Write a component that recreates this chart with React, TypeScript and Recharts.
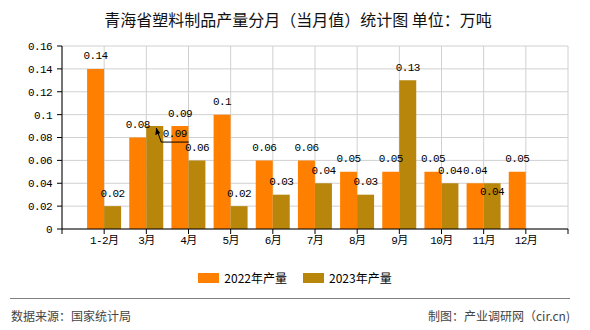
import React from "react";
import { BarChart, Bar, XAxis, YAxis, CartesianGrid, LabelList } from "recharts";

const months = ["1-2月", "3月", "4月", "5月", "6月", "7月", "8月", "9月", "10月", "11月", "12月"];
const output2022 = [0.14, 0.08, 0.09, 0.1, 0.06, 0.06, 0.05, 0.05, 0.05, 0.04, 0.05];
const output2023 = [0.02, 0.09, 0.06, 0.02, 0.03, 0.04, 0.03, 0.13, 0.04, 0.04, null];
const yTicks = [0, 0.02, 0.04, 0.06, 0.08, 0.1, 0.12, 0.14, 0.16];
const xTicks = [0, 1, 2, 3, 4, 5, 6, 7, 8, 9, 10, 11, 12];

const series = [
  { key: "y2022", name: "2022年产量", color: "#FF8000" },
  { key: "y2023", name: "2023年产量", color: "#B8860B" },
];

const data = months.map((m, i) => ({
  pos: i + 1,
  month: m,
  y2022: output2022[i],
  y2023: output2023[i],
}));

const monoFont = "'Liberation Mono', 'Noto Sans CJK SC', monospace";
const cjkFont = "'Noto Sans CJK SC', 'Noto Sans', sans-serif";

const makeLabel = (seriesKey: string) => (props: any) => {
  const { x, y, width, value, index } = props;
  if (value === null || value === undefined) return null;
  const cx = x + width / 2;
  const textStyle = { fontFamily: monoFont, fontSize: 11, letterSpacing: -0.6, fill: "#000" };
  // 3月 2023 label is pushed aside with a leader line in the original
  if (seriesKey === "y2023" && index === 1) {
    const tx = cx + 1.5;
    const ty = y + 2;
    return (
      <g>
        <polyline
          points={`${tx},${ty} ${cx + 6.5},${y + 16} ${cx + 34},${y + 16}`}
          fill="none"
          stroke="#000"
          strokeWidth={1}
        />
        <polygon points={`${tx},${ty} ${tx - 1},${ty + 7} ${tx + 4},${ty + 5}`} fill="#000" />
        <text x={cx + 20} y={y + 7.5} textAnchor="middle" dominantBaseline="central" style={textStyle}>
          {value}
        </text>
      </g>
    );
  }
  let ly = y - 12.5;
  if (seriesKey === "y2023" && index === 9) ly = y + 9;
  return (
    <text x={cx} y={ly} textAnchor="middle" dominantBaseline="central" style={textStyle}>
      {value}
    </text>
  );
};

const App = () => {
  return (
    <div
      style={{
        position: "absolute",
        left: 0,
        top: 0,
        width: 590,
        height: 330,
        background: "#fff",
        fontFamily: cjkFont,
      }}
    >
      <div
        style={{
          position: "absolute",
          top: 9,
          left: 0,
          width: 596,
          textAlign: "center",
          fontSize: 16,
          lineHeight: "20px",
          color: "#111",
        }}
      >
        青海省塑料制品产量分月（当月值）统计图 单位：万吨
      </div>
      <div style={{ position: "absolute", left: 0, top: 0 }}>
        <BarChart
          width={590}
          height={330}
          data={data}
          margin={{ top: 46, right: 22, left: 12, bottom: 71 }}
          barGap={0}
        >
          <CartesianGrid stroke="#d0d0d0" strokeWidth={1} />
          <XAxis
            type="number"
            dataKey="pos"
            domain={[0, 12]}
            ticks={xTicks}
            interval={0}
            height={30}
            tickSize={5}
            tickMargin={2}
            tickFormatter={(v: number) => months[v - 1] ?? ""}
            axisLine={{ stroke: "#000" }}
            tickLine={{ stroke: "#000" }}
            tick={{ fill: "#000", fontSize: 11, fontFamily: monoFont, letterSpacing: -0.6 }}
          />
          <YAxis
            type="number"
            domain={[0, 0.16]}
            ticks={yTicks}
            interval={0}
            width={50}
            tickSize={5}
            tickMargin={5}
            axisLine={{ stroke: "#000" }}
            tickLine={{ stroke: "#000" }}
            tick={{ fill: "#000", fontSize: 11, fontFamily: monoFont, letterSpacing: -0.6 }}
          />
          {series.map((s) => (
            <Bar key={s.key} dataKey={s.key} name={s.name} fill={s.color} barSize={17} isAnimationActive={false}>
              <LabelList dataKey={s.key} content={makeLabel(s.key)} />
            </Bar>
          ))}
        </BarChart>
      </div>
      <div
        style={{
          position: "absolute",
          top: 270,
          left: 0,
          width: 590,
          display: "flex",
          justifyContent: "center",
          gap: 16,
          fontSize: 12,
          lineHeight: "16px",
          color: "#000",
        }}
      >
        {series.map((s) => (
          <div key={s.key} style={{ display: "flex", alignItems: "center" }}>
            <span style={{ display: "inline-block", width: 21, height: 10, background: s.color, marginRight: 5 }} />
            <span>{s.name}</span>
          </div>
        ))}
      </div>
      <div style={{ position: "absolute", top: 298, left: 10, width: 560, height: 1, background: "#808080" }} />
      <div style={{ position: "absolute", top: 308, left: 11, fontSize: 12, lineHeight: "16px", color: "#444" }}>
        数据来源：国家统计局
      </div>
      <div
        style={{
          position: "absolute",
          top: 308,
          right: 20,
          fontSize: 12,
          lineHeight: "16px",
          color: "#444",
        }}
      >
        制图：产业调研网（cir.cn)
      </div>
    </div>
  );
};

export default App;
